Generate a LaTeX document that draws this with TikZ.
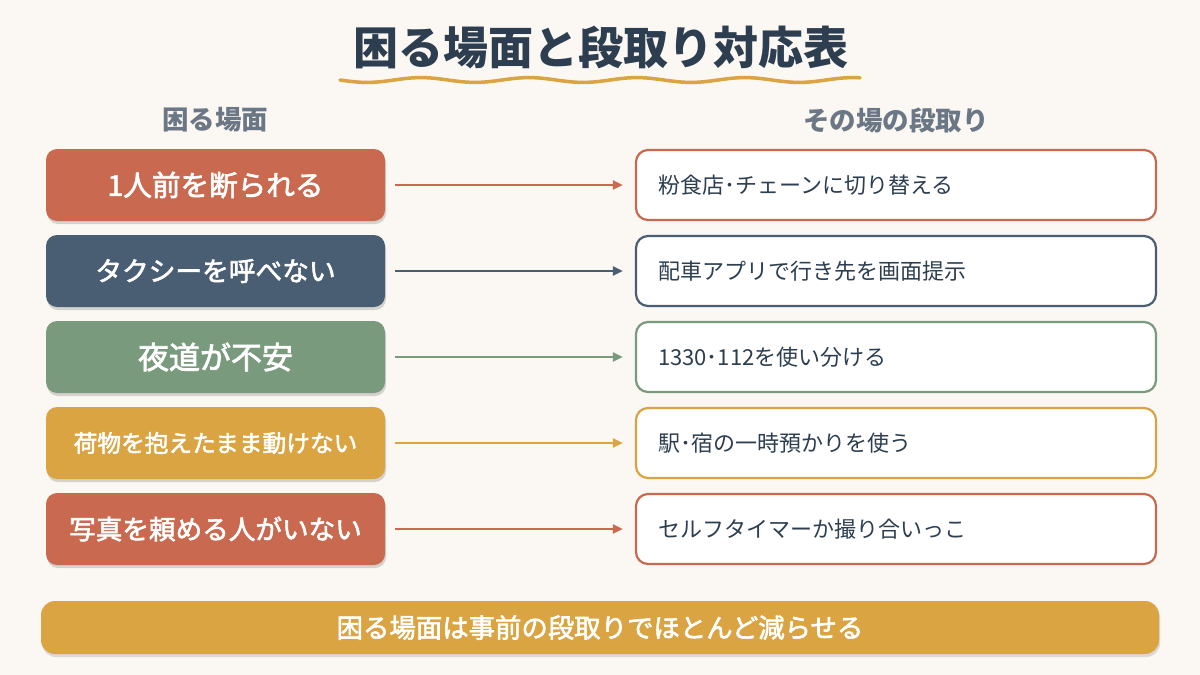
\documentclass[tikz,border=0pt]{standalone}
\usepackage{fontspec}
\setmainfont{Noto Sans CJK JP}
\newfontfamily\jpmed{Noto Sans CJK JP}[FakeBold=2.2]
\usetikzlibrary{arrows.meta,shadows,calc}
\definecolor{bg}{HTML}{FBF7F2}
\definecolor{navy}{HTML}{2C3E50}
\definecolor{terra}{HTML}{C96A50}
\definecolor{slate}{HTML}{4A5E73}
\definecolor{sage}{HTML}{7A9A7E}
\definecolor{gold}{HTML}{D9A441}
\definecolor{greytxt}{HTML}{6B7785}
\tikzset{
  sit/.style={rounded corners=11pt, fill=#1, minimum width=339pt, minimum height=72pt,
    text=white, inner sep=0pt,
    drop shadow={shadow xshift=1pt, shadow yshift=-3pt, opacity=0.15, fill=black}},
  act/.style={rounded corners=12pt, draw=#1, line width=2.2pt, fill=white,
    minimum width=520pt, minimum height=70pt, text=navy, inner sep=0pt},
  acttxt/.style={anchor=west, text=navy, font=\fontsize{22}{26}\selectfont, inner sep=0pt},
  link/.style={draw=#1, line width=2pt, -{Triangle[length=10pt,width=9pt]}},
  hdr/.style={text=greytxt, font=\bfseries\fontsize{26.5}{30}\selectfont}
}
\begin{document}
\begin{tikzpicture}[x=1pt,y=-1pt]
\fill[bg] (0,0) rectangle (1200,675);
\useasboundingbox (0,0) rectangle (1200,675);
% title
\node[text=navy, font=\bfseries\fontsize{45}{50}\selectfont] (title) at (601,47) {困る場面と段取り対応表};
\draw[gold, line width=3.5pt, line cap=round] plot[domain=340:860, samples=200, smooth] (\x,{80+2.4*sin((\x-340)/108*360)});
% headers
\node[hdr] (h1) at (215,120) {困る場面};
\node[hdr] (h2) at (896,120) {その場の段取り};
% rows
\foreach \i/\c/\l/\r/\fs in {
  1/terra/{1人前を断られる}/{粉食店･チェーンに切り替える}/28.6,
  2/slate/{タクシーを呼べない}/{配車アプリで行き先を画面提示}/26.7,
  3/sage/{夜道が不安}/{1330･112を使い分ける}/31,
  4/gold/{荷物を抱えたまま動けない}/{駅･宿の一時預かりを使う}/23.7,
  5/terra/{写真を頼める人がいない}/{セルフタイマーか撮り合いっこ}/26.6}{
  \pgfmathsetmacro{\yy}{185+(\i-1)*86}
  \node[sit=\c, font=\jpmed\fontsize{\fs}{\fs}\selectfont] (s\i) at (215.5,\yy) {\l};
  \node[act=\c] (a\i) at (896,\yy) {};
  \node[acttxt] (t\i) at ($(a\i.west)+(23,0)$) {\r};
  \draw[link=\c] ($(s\i.east)+(10,0)$) -- ($(a\i.west)+(-12,0)$);
}
% bottom
\node[rounded corners=14pt, fill=gold, minimum width=1118pt, minimum height=53pt, text=white,
  font=\jpmed\fontsize{26.4}{30}\selectfont,
  drop shadow={shadow xshift=1pt, shadow yshift=-3pt, opacity=0.12, fill=black}] (bar) at (600,627.5) {困る場面は事前の段取りでほとんど減らせる};
\end{tikzpicture}
\end{document}
